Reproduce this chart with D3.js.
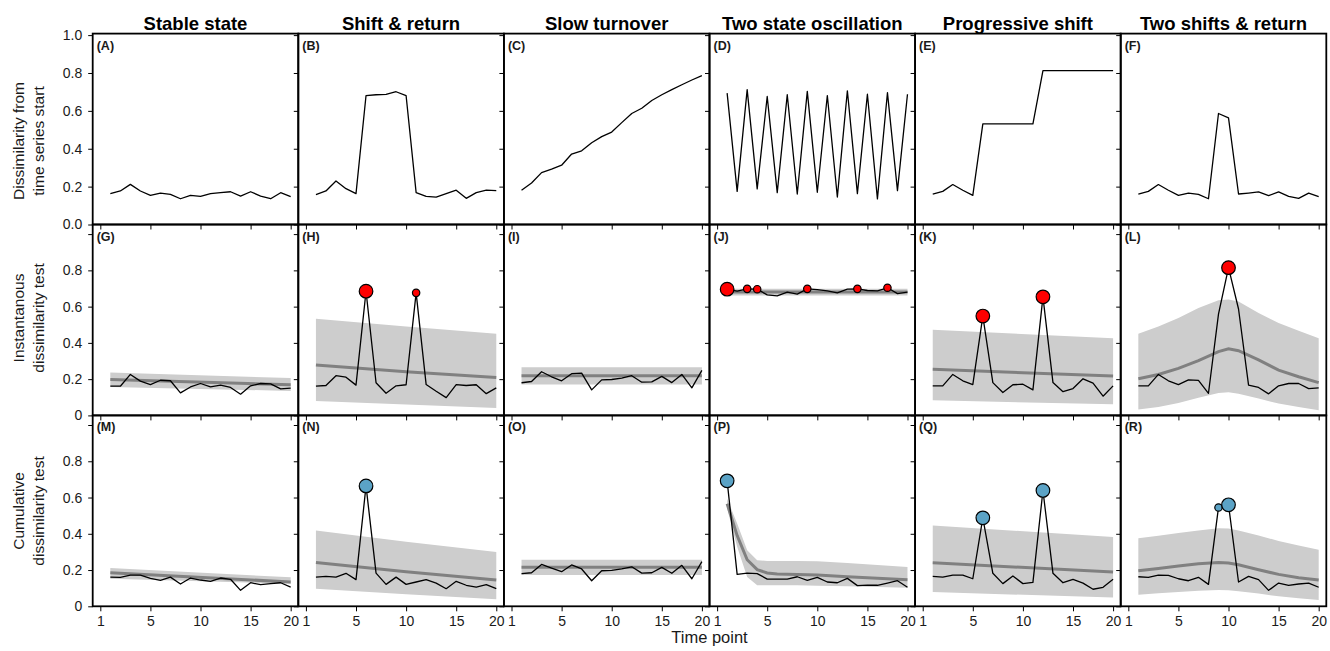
<!DOCTYPE html>
<html>
<head>
<meta charset="utf-8">
<script src="https://cdn.jsdelivr.net/npm/d3@7"></script>
<style>
  html, body { margin: 0; padding: 0; background: #fff; }
  svg { display: block; font-family: 'Liberation Sans', Arial, Helvetica, sans-serif; }
</style>
</head>
<body>
<svg id="chart"></svg>
<script>
// time points of each series (first point = time point 2)
const timePoints = [2, 3, 4, 5, 6, 7, 8, 9, 10, 11, 12, 13, 14, 15, 16, 17, 18, 19, 20];
const xTickAt = [1, 6, 11, 16, 20];
const xTickLabels = ['1', '5', '10', '15', '20'];
const yTickValues = [0, 0.2, 0.4, 0.6, 0.8, 1.0];
const yTickLabelsTop = ['0.0', '0.2', '0.4', '0.6', '0.8', '1.0'];
const yTickLabelsLow = ['0', '0.2', '0.4', '0.6', '0.8', ''];

const colTitles = ['Stable state', 'Shift & return', 'Slow turnover', 'Two state oscillation', 'Progressive shift', 'Two shifts & return'];
const rowTitles = [['Dissimilarity from', 'time series start'], ['Instantanous', 'dissimilarity test'], ['Cumulative', 'dissimilarity test']];
const panelLetters = ['A','B','C','D','E','F','G','H','I','J','K','L','M','N','O','P','Q','R'];

// row 1: dissimilarity from time series start
const dissA = [.163, .177, .212, .177, .154, .166, .159, .136, .154, .149, .163, .168, .173, .150, .173, .150, .136, .168, .147];
const dissB = [.158, .177, .230, .189, .163, .681, .685, .687, .701, .680, .168, .149, .145, .163, .181, .138, .168, .181, .179];
const dissC = [.181, .219, .274, .292, .313, .372, .389, .432, .464, .488, .538, .586, .614, .655, .685, .712, .738, .763, .786];
const dissD = [.694, .175, .712, .188, .676, .168, .685, .161, .703, .170, .681, .145, .706, .163, .688, .135, .696, .179, .688];
const dissE = [.161, .175, .211, .181, .154, .531, .531, .531, .531, .531, .531, .812, .812, .812, .812, .812, .812, .812, .812];
const dissF = [.161, .175, .211, .181, .154, .166, .159, .136, .586, .563, .161, .166, .172, .152, .172, .149, .138, .166, .147];

// row 2: instantaneous dissimilarity test
const instG = [.161, .161, .226, .189, .170, .194, .191, .124, .157, .176, .157, .167, .154, .117, .163, .176, .174, .146, .150];
const instH = [.161, .165, .219, .211, .167, .685, .180, .122, .163, .169, .676, .170, .133, .098, .170, .165, .169, .120, .152];
const instI = [.180, .187, .241, .213, .191, .230, .233, .141, .196, .198, .206, .219, .183, .185, .215, .181, .226, .152, .248];
const instJ = [.696, .685, .698, .696, .665, .659, .680, .669, .698, .694, .687, .676, .696, .698, .689, .687, .704, .672, .680];
const instK = [.163, .163, .226, .191, .170, .548, .181, .126, .169, .172, .141, .654, .181, .131, .148, .202, .178, .106, .163];
const instL = [.163, .163, .226, .191, .170, .196, .193, .122, .559, .815, .587, .167, .154, .119, .163, .176, .176, .148, .152];

// row 3: cumulative dissimilarity test
const cumM = [.161, .160, .172, .172, .154, .143, .161, .123, .156, .145, .138, .156, .149, .088, .130, .119, .125, .130, .106];
const cumN = [.161, .165, .161, .182, .147, .664, .183, .121, .161, .121, .134, .147, .128, .097, .138, .116, .106, .119, .097];
const cumO = [.180, .185, .231, .211, .191, .228, .206, .141, .196, .198, .206, .218, .183, .185, .215, .182, .226, .152, .246];
const cumP = [.692, .176, .183, .180, .150, .150, .150, .163, .143, .160, .134, .130, .154, .114, .117, .116, .128, .141, .105];
const cumQ = [.165, .161, .172, .172, .152, .488, .182, .125, .167, .125, .132, .639, .182, .130, .149, .128, .094, .105, .149];
const cumR = [.163, .160, .172, .171, .152, .141, .160, .121, .545, .560, .134, .165, .147, .088, .128, .116, .123, .128, .105];

// null model envelopes: [time point, lower, mean, upper]
const nullG = [[2, .157, .198, .237], [20, .135, .169, .206]];
const nullH = [[2, .080, .278, .533], [11, .060, .241, .490], [20, .041, .209, .450]];
const nullI = [[2, .170, .219, .265], [20, .170, .219, .265]];
const nullJ = [[2, .661, .680, .698], [20, .661, .680, .698]];
const nullK = [[2, .083, .254, .472], [20, .061, .217, .426]];
const nullL = [[2, .033, .202, .450], [4, .046, .226, .491], [6, .069, .259, .537], [8, .098, .302, .593], [10, .124, .352, .635],
  [11, .128, .367, .639], [12, .120, .357, .628], [14, .093, .306, .565], [16, .065, .250, .509], [18, .046, .213, .467], [20, .028, .181, .426]];
const nullM = [[2, .152, .185, .211], [20, .125, .134, .160]];
const nullN = [[2, .097, .242, .418], [11, .066, .190, .356], [20, .039, .145, .299]];
const nullO = [[2, .172, .215, .257], [20, .172, .215, .257]];
const nullP = [[2, .540, .566, .593], [3, .328, .390, .457], [4, .162, .257, .309], [5, .116, .202, .254], [6, .116, .184, .250],
  [7, .116, .178, .250], [9, .116, .176, .250], [11, .114, .172, .248], [14, .110, .163, .239], [17, .106, .155, .228], [20, .103, .147, .217]];
const nullQ = [[2, .079, .240, .446], [20, .048, .189, .382]];
const nullR = [[2, .064, .196, .376], [4, .072, .209, .389], [6, .079, .222, .404], [8, .086, .235, .418], [10, .090, .242, .431],
  [11, .088, .239, .429], [12, .083, .229, .418], [14, .070, .202, .391], [16, .055, .176, .360], [18, .044, .158, .336], [20, .035, .145, .312]];

// significant time points: [time point, level]
const sigH = [[7, 2], [12, 1]];
const sigJ = [[2, 2], [4, 1], [5, 1], [10, 1], [15, 1], [18, 1]];
const sigK = [[7, 2], [13, 2]];
const sigL = [[11, 2]];
const sigN = [[7, 2]];
const sigP = [[2, 2]];
const sigQ = [[7, 2], [13, 2]];
const sigR = [[10, 1], [11, 2]];

const rows = [
  [dissA, dissB, dissC, dissD, dissE, dissF].map(v => ({ values: v, band: null, sig: [] })),
  [
    { values: instG, band: nullG, sig: [] },
    { values: instH, band: nullH, sig: sigH },
    { values: instI, band: nullI, sig: [] },
    { values: instJ, band: nullJ, sig: sigJ },
    { values: instK, band: nullK, sig: sigK },
    { values: instL, band: nullL, sig: sigL }
  ],
  [
    { values: cumM, band: nullM, sig: [] },
    { values: cumN, band: nullN, sig: sigN },
    { values: cumO, band: nullO, sig: [] },
    { values: cumP, band: nullP, sig: sigP },
    { values: cumQ, band: nullQ, sig: sigQ },
    { values: cumR, band: nullR, sig: sigR }
  ]
];
const sigColors = ['#ff0000', '#ff0000', '#5ba3c6'];

// layout
const width = 1330, height = 651;
const left0 = 92.7, colW = 205.6, top0 = 33.6, rowH = 190.9;

const svg = d3.select('#chart')
  .attr('width', width)
  .attr('height', height);

svg.append('rect').attr('width', width).attr('height', height).attr('fill', '#fff');

const radius = d3.scaleOrdinal().domain([1, 2]).range([3.7, 6.8]);

rows.forEach((row, r) => {
  const top = top0 + r * rowH;
  const bottom = top + rowH;
  const y = d3.scaleLinear()
    .domain([0, r === 0 ? 1.008 : 1.053])
    .range([bottom, top]);

  row.forEach((p, c) => {
    const left = left0 + c * colW;
    const x = d3.scaleLinear()
      .domain([0.24, 20.76])
      .range([left, left + colW]);

    const g = svg.append('g');

    // null model envelope
    if (p.band) {
      g.append('path')
        .datum(p.band)
        .attr('fill', '#cdcdcd')
        .attr('d', d3.area()
          .x(d => x(d[0]))
          .y0(d => y(d[1]))
          .y1(d => y(d[3])));

      g.append('path')
        .datum(p.band)
        .attr('fill', 'none')
        .attr('stroke', '#808080')
        .attr('stroke-width', 3)
        .attr('d', d3.line()
          .x(d => x(d[0]))
          .y(d => y(d[2])));
    }

    // observed series
    g.append('path')
      .datum(p.values)
      .attr('fill', 'none')
      .attr('stroke', '#000')
      .attr('stroke-width', 1.3)
      .attr('stroke-linejoin', 'round')
      .attr('d', d3.line()
        .x((d, i) => x(timePoints[i]))
        .y(d => y(d)));

    // significant points
    g.selectAll('circle')
      .data(p.sig)
      .join('circle')
      .attr('cx', d => x(d[0]))
      .attr('cy', d => y(p.values[timePoints.indexOf(d[0])]))
      .attr('r', d => radius(d[1]))
      .attr('fill', sigColors[r])
      .attr('stroke', '#000')
      .attr('stroke-width', 1.2);

    // axes
    const yLabels = r === 0 ? yTickLabelsTop : yTickLabelsLow;
    const yAxis = g.append('g')
      .attr('transform', 'translate(' + left + ',0)')
      .call(d3.axisLeft(y)
        .tickValues(yTickValues)
        .tickSize(4.5)
        .tickPadding(6)
        .tickFormat((d, i) => c === 0 ? yLabels[i] : ''));

    const xAxis = g.append('g')
      .attr('transform', 'translate(0,' + bottom + ')')
      .call(d3.axisBottom(x)
        .tickValues(xTickAt)
        .tickSize(5)
        .tickPadding(5)
        .tickFormat((d, i) => r === 2 ? xTickLabels[i] : ''));

    [yAxis, xAxis].forEach(a => {
      a.select('.domain').remove();
      a.selectAll('line').attr('stroke', '#000').attr('stroke-width', 1);
      a.selectAll('text')
        .attr('fill', '#1a1a1a')
        .style('font-size', '14px')
        .style('font-family', "'Liberation Sans', Arial, sans-serif");
    });

    // panel frame
    g.append('rect')
      .attr('x', left)
      .attr('y', top)
      .attr('width', colW)
      .attr('height', rowH)
      .attr('fill', 'none')
      .attr('stroke', '#000')
      .attr('stroke-width', 1.8);

    // panel letter
    g.append('text')
      .attr('x', left + 4)
      .attr('y', top + 16)
      .attr('font-size', '12.5px')
      .attr('font-weight', 'bold')
      .attr('fill', '#1a1a1a')
      .text('(' + panelLetters[r * 6 + c] + ')');
  });
});

// column titles
colTitles.forEach((t, c) => {
  svg.append('text')
    .attr('x', left0 + c * colW + colW / 2)
    .attr('y', 29.5)
    .attr('text-anchor', 'middle')
    .attr('font-size', '18.5px')
    .attr('font-weight', 'bold')
    .attr('fill', '#000')
    .text(t);
});

// row titles
const rowTitleY = [141, 318, 511];
rowTitles.forEach((lines, r) => {
  lines.forEach((t, k) => {
    svg.append('text')
      .attr('transform', 'translate(' + (24.4 + k * 20) + ',' + rowTitleY[r] + ') rotate(-90)')
      .attr('text-anchor', 'middle')
      .attr('font-size', '15.5px')
      .attr('fill', '#1a1a1a')
      .text(t);
  });
});

// x title
svg.append('text')
  .attr('x', left0 + 3 * colW)
  .attr('y', 643)
  .attr('text-anchor', 'middle')
  .attr('font-size', '16.5px')
  .attr('fill', '#1a1a1a')
  .text('Time point');
</script>
</body>
</html>
